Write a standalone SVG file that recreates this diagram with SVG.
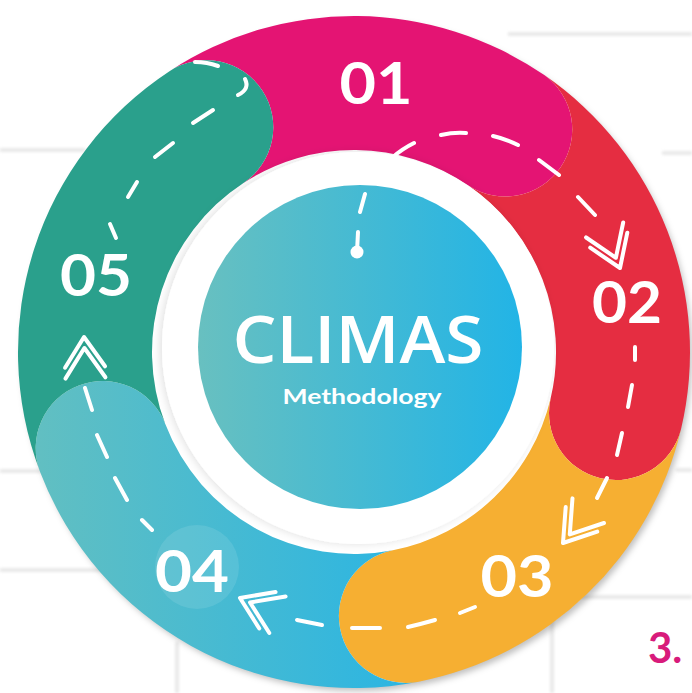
<svg xmlns="http://www.w3.org/2000/svg" width="692" height="693" viewBox="0 0 692 693">
  <defs>
    <linearGradient id="gBlue" gradientUnits="userSpaceOnUse" x1="40" y1="0" x2="420" y2="0">
      <stop offset="0" stop-color="#61BFC2"/>
      <stop offset="1" stop-color="#2AB5E3"/>
    </linearGradient>
    <linearGradient id="gCore" gradientUnits="userSpaceOnUse" x1="198" y1="0" x2="522" y2="0">
      <stop offset="0" stop-color="#68C0C0"/>
      <stop offset="1" stop-color="#22B4E6"/>
    </linearGradient>
    <filter id="shRing" x="-10%" y="-10%" width="120%" height="120%">
      <feDropShadow dx="3" dy="4" stdDeviation="3" flood-color="#000" flood-opacity="0.25"/>
    </filter>
    <filter id="shWhite" x="-10%" y="-10%" width="120%" height="120%">
      <feDropShadow dx="-2" dy="0" stdDeviation="4" flood-color="#000" flood-opacity="0.12"/>
    </filter>
    <filter id="soft" x="-5%" y="-200%" width="110%" height="500%">
      <feGaussianBlur stdDeviation="1.5"/>
    </filter>
    <path id="chev" d="M -30 -20 L 0 0 L -30 20 M -41 -20 L -11 0 L -41 20"/>
  </defs>
  <style>
    .bg { stroke: #E2E2E2; stroke-width: 3; fill: none; }
    .num { font-family: Lato, "Open Sans", "Liberation Sans", sans-serif; font-weight: 700; font-size: 58px; fill: #FFFFFF; text-anchor: middle; }
    .dash { stroke: #FFFFFF; stroke-width: 4; stroke-linecap: round; fill: none; }
    .chev { stroke: #FFFFFF; stroke-width: 4; stroke-linecap: round; stroke-linejoin: round; fill: none; }
  </style>

  <rect width="692" height="693" fill="#FFFFFF"/>

  <g id="background" filter="url(#soft)">
    <line class="bg" x1="508" y1="34" x2="692" y2="34"/>
    <line class="bg" x1="662" y1="153" x2="692" y2="153"/>
    <line class="bg" x1="0" y1="150" x2="85" y2="150"/>
    <line class="bg" x1="0" y1="471" x2="42" y2="471"/>
    <line class="bg" x1="676" y1="470" x2="692" y2="470"/>
    <line class="bg" x1="0" y1="570" x2="105" y2="570"/>
    <line class="bg" x1="177" y1="642" x2="177" y2="693"/>
    <line class="bg" x1="552" y1="597" x2="692" y2="597"/>
    <line class="bg" x1="552" y1="597" x2="552" y2="693"/>
  </g>
  <text x="648" y="663" font-family="Lato, 'Liberation Sans', sans-serif" font-weight="700" font-size="42" fill="#D81B7B">3.</text>

  <circle cx="354" cy="352" r="335" fill="#FFFFFF" filter="url(#shRing)"/>

  <g id="step01">
    <path d="M 169.5 71.2 A 336 336 0 0 1 544.3 75.1 A 67 67 0 0 1 468.4 185.5 A 202 202 0 0 0 243.1 183.2 A 67 67 0 0 0 169.5 71.2 Z" fill="#E41473"/>
    <text class="num" x="376" y="104" textLength="73" lengthAdjust="spacingAndGlyphs">01</text>
  </g>
  <g id="step02">
    <path d="M 544.3 75.1 A 336 336 0 0 1 681.0 429.3 A 67 67 0 0 1 550.6 398.5 A 202 202 0 0 0 468.4 185.5 A 67 67 0 0 0 544.3 75.1 Z" fill="#E52D41"/>
    <text class="num" x="627" y="323" textLength="70" lengthAdjust="spacingAndGlyphs">02</text>
  </g>
  <g id="step03">
    <path d="M 681.0 429.3 A 336 336 0 0 1 418.7 681.7 A 67 67 0 0 1 392.9 550.2 A 202 202 0 0 0 550.6 398.5 A 67 67 0 0 0 681.0 429.3 Z" fill="#F6AF32"/>
    <text class="num" x="517" y="597" textLength="73" lengthAdjust="spacingAndGlyphs">03</text>
  </g>
  <g id="step04">
    <path d="M 418.7 681.7 A 336 336 0 0 1 40.1 471.9 A 67 67 0 0 1 165.3 424.1 A 202 202 0 0 0 392.9 550.2 A 67 67 0 0 0 418.7 681.7 Z" fill="url(#gBlue)"/>
    <circle cx="197" cy="567" r="42" fill="#FFFFFF" fill-opacity="0.1"/>
    <text class="num" x="192" y="592" textLength="74" lengthAdjust="spacingAndGlyphs">04</text>
  </g>
  <g id="step05">
    <path d="M 40.1 471.9 A 336 336 0 0 1 169.5 71.2 A 67 67 0 0 1 243.1 183.2 A 202 202 0 0 0 165.3 424.1 A 67 67 0 0 0 40.1 471.9 Z" fill="#2AA08C"/>
    <text class="num" x="96" y="296" textLength="72" lengthAdjust="spacingAndGlyphs">05</text>
  </g>

  <g id="center">
    <circle cx="358" cy="348" r="196" fill="#FFFFFF" filter="url(#shWhite)"/>
    <circle cx="360" cy="347" r="162" fill="url(#gCore)"/>
    <text x="358" y="363" font-family="'Open Sans', Lato, 'Liberation Sans', sans-serif" font-weight="600" font-size="66" fill="#FFFFFF" text-anchor="middle" textLength="251" lengthAdjust="spacingAndGlyphs">CLIMAS</text>
    <text x="362" y="404" font-family="Lato, 'Liberation Sans', sans-serif" font-weight="700" font-size="21" fill="#FFFFFF" text-anchor="middle" textLength="159" lengthAdjust="spacingAndGlyphs">Methodology</text>
  </g>

  <g id="connectors">
    <circle cx="357" cy="252" r="6.5" fill="#FFFFFF"/>
    <path class="dash" d="M 357 252 L 358 232 M 360 212 L 365 194 M 393 157 Q 402 149 414 143 M 441 135 Q 454 132 466 133 M 493 136 Q 506 139 518 145 M 539 160 L 559 175 M 578 197 L 595 215"/>
    <path class="dash" d="M 369 181 L 373 171" stroke-opacity="0.35"/>
    <use href="#chev" class="chev" transform="translate(620 268) rotate(68)"/>
    <path class="dash" d="M 635 347 L 635 360 M 632 385 L 628 407 M 622 433 L 617 455 M 607 478 L 597 498"/>
    <use href="#chev" class="chev" transform="translate(563 543) rotate(128)"/>
    <path class="dash" d="M 475 607 L 460 613 M 435 620 Q 421 624 408 627 M 380 628 L 352 628 M 322 625 L 297 620"/>
    <use href="#chev" class="chev" transform="translate(240 598) rotate(204)"/>
    <path class="dash" d="M 152 530 L 142 520 M 127 500 L 115 478 M 107 457 L 97 435 M 92 410 L 85 388"/>
    <use href="#chev" class="chev" transform="translate(84 337) rotate(-92)"/>
    <path class="dash" d="M 116 238 L 110 224 M 128 197 L 137 182 M 155 157 L 173 143 M 193 123 L 213 110 M 238 95 Q 250 89 245 79 M 218 66 Q 207 62 195 62"/>
  </g>
</svg>
